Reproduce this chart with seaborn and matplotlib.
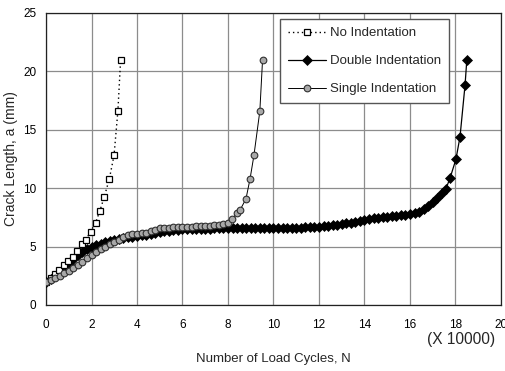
import matplotlib
matplotlib.use("Agg")
import matplotlib.pyplot as plt
from matplotlib.ticker import MultipleLocator
import seaborn as sns

# Crack growth data: N in units of 10000 cycles, crack length a in mm
no_ind_N = [0, 0.2, 0.4, 0.58, 0.78, 0.95, 1.17, 1.37, 1.57, 1.76, 1.96,
            2.18, 2.37, 2.56, 2.78, 2.99, 3.16, 3.28]
no_ind_a = [2.0, 2.3, 2.65, 3.0, 3.4, 3.8, 4.1, 4.6, 5.2, 5.6, 6.28,
            7.05, 8.07, 9.25, 10.76, 12.8, 16.6, 21.0]

double_N = [0.0, 0.2, 0.4, 0.6, 0.8, 1.0, 1.2, 1.4, 1.6, 1.8,
            2.0, 2.2, 2.4, 2.6, 2.8, 3.0, 3.2, 3.4, 3.6, 3.8,
            4.0, 4.2, 4.4, 4.6, 4.8, 5.0, 5.2, 5.4, 5.6, 5.8,
            6.0, 6.2, 6.4, 6.6, 6.8, 7.0, 7.2, 7.4, 7.6, 7.8,
            8.0, 8.2, 8.4, 8.6, 8.8, 9.0, 9.2, 9.4, 9.6, 9.8,
            10.0, 10.2, 10.4, 10.6, 10.8, 11.0, 11.2, 11.4, 11.6, 11.8,
            12.0, 12.2, 12.4, 12.6, 12.8, 13.0, 13.2, 13.4, 13.6, 13.8,
            14.0, 14.2, 14.4, 14.6, 14.8, 15.0, 15.2, 15.4, 15.6, 15.8,
            16.0, 16.2, 16.4, 16.6, 16.8, 17.0, 17.2, 17.4,
            17.58, 17.76, 18.02, 18.2, 18.42, 18.5]
double_a = [2.0, 2.2, 2.45, 2.75, 3.1, 3.5, 3.9, 4.25, 4.55, 4.8,
            5.0, 5.15, 5.25, 5.35, 5.45, 5.55, 5.65, 5.72, 5.8, 5.85,
            5.9, 5.95, 6.0, 6.05, 6.15, 6.25, 6.3, 6.35, 6.4, 6.45,
            6.48, 6.5, 6.5, 6.52, 6.52, 6.53, 6.54, 6.55, 6.55, 6.55,
            6.56, 6.56, 6.56, 6.56, 6.56, 6.56, 6.56, 6.56, 6.56, 6.56,
            6.57, 6.58, 6.58, 6.6, 6.6, 6.62, 6.63, 6.64, 6.66, 6.68,
            6.7, 6.74, 6.78, 6.82, 6.87, 6.92, 6.98, 7.05, 7.12, 7.2,
            7.28, 7.35, 7.42, 7.48, 7.52, 7.56, 7.6, 7.65, 7.7, 7.74,
            7.8, 7.9, 8.0, 8.2, 8.45, 8.85, 9.2, 9.6,
            9.95, 10.85, 12.47, 14.4, 18.8, 21.0]

single_N = [0.0, 0.2, 0.4, 0.6, 0.8, 1.0, 1.2, 1.4, 1.6, 1.8,
            2.0, 2.2, 2.4, 2.6, 2.8, 3.0, 3.2, 3.4, 3.6, 3.8,
            4.0, 4.2, 4.4, 4.6, 4.8, 5.0, 5.2, 5.4, 5.6, 5.8,
            6.0, 6.2, 6.4, 6.6, 6.8, 7.0, 7.2, 7.4, 7.6, 7.8,
            8.01, 8.19, 8.38, 8.53, 8.79, 8.97, 9.14, 9.4, 9.52]
single_a = [2.0, 2.15, 2.3, 2.5, 2.7, 2.95, 3.2, 3.45, 3.7, 4.0,
            4.3, 4.55, 4.8, 5.0, 5.2, 5.4, 5.6, 5.85, 6.0, 6.05,
            6.1, 6.15, 6.2, 6.3, 6.4, 6.55, 6.6, 6.62, 6.64, 6.66,
            6.68, 6.7, 6.7, 6.72, 6.74, 6.76, 6.8, 6.82, 6.85, 6.9,
            7.05, 7.34, 7.85, 8.13, 9.08, 10.8, 12.8, 16.6, 21.0]

x_ticks = [0, 2, 4, 6, 8, 10, 12, 14, 16, 18, 20]
y_ticks = [0, 5, 10, 15, 20, 25]

sns.set_theme(style="white")
plt.rcParams["font.family"] = ["Liberation Sans", "DejaVu Sans"]

fig = plt.figure(figsize=(5.05, 3.71), dpi=100)
ax = fig.add_axes([0.0911, 0.178, 0.9009, 0.787])

sns.lineplot(x=no_ind_N, y=no_ind_a, ax=ax, sort=False, estimator=None,
             color="black", linestyle=(0, (1, 2.2)), linewidth=1.0,
             marker="s", markersize=4.5, markerfacecolor="white",
             markeredgecolor="black", markeredgewidth=0.9,
             label="No Indentation", zorder=4)
sns.lineplot(x=double_N, y=double_a, ax=ax, sort=False, estimator=None,
             color="black", linestyle="-", linewidth=0.9,
             marker="D", markersize=5, markerfacecolor="black",
             markeredgecolor="black", markeredgewidth=0.5,
             label="Double Indentation", zorder=3)
sns.lineplot(x=single_N, y=single_a, ax=ax, sort=False, estimator=None,
             color="black", linestyle="-", linewidth=0.7,
             marker="o", markersize=4.8, markerfacecolor="#a8a8a8",
             markeredgecolor="#303030", markeredgewidth=0.8,
             label="Single Indentation", zorder=5)

ax.set_xlim(0, 20)
ax.set_ylim(0, 25)
ax.set_xticks(x_ticks)
ax.set_yticks(y_ticks)
ax.set_xticklabels([str(t) for t in x_ticks])
ax.set_yticklabels([str(t) for t in y_ticks])
ax.xaxis.set_minor_locator(MultipleLocator(0.5))
ax.yaxis.set_minor_locator(MultipleLocator(1))
ax.tick_params(axis="both", which="major", direction="in", length=0,
               labelsize=8.5, colors="black")
ax.tick_params(axis="x", which="major", pad=10)
ax.tick_params(axis="y", which="major", pad=7)
ax.tick_params(axis="both", which="minor", direction="in", length=2.5,
               width=0.6, color="#333333")

ax.grid(True, which="major", color="#8c8c8c", linewidth=0.9)
ax.set_axisbelow(True)
for sp in ax.spines.values():
    sp.set_visible(True)
    sp.set_color("#222222")
    sp.set_linewidth(0.9)

ax.set_xlabel("Number of Load Cycles, N", fontsize=9.5)
ax.xaxis.set_label_coords(0.5, -0.165)
ax.set_ylabel("Crack Length, a (mm)", fontsize=10)
ax.yaxis.set_label_coords(-0.062, 0.5)
ax.text(0.988, -0.12, "(X 10000)", transform=ax.transAxes, ha="right",
        va="center", fontsize=11.2)

leg = ax.legend(loc="upper left", bbox_to_anchor=(0.514, 0.979),
                frameon=True, fancybox=False, fontsize=9.5,
                handlelength=2.9, handletextpad=0.3, labelspacing=1.2,
                borderpad=0.6, borderaxespad=0)
leg.get_frame().set_edgecolor("#555555")
leg.get_frame().set_linewidth(1.0)
leg.get_frame().set_alpha(1)

fig.savefig("out.png", dpi=100, facecolor="white")
